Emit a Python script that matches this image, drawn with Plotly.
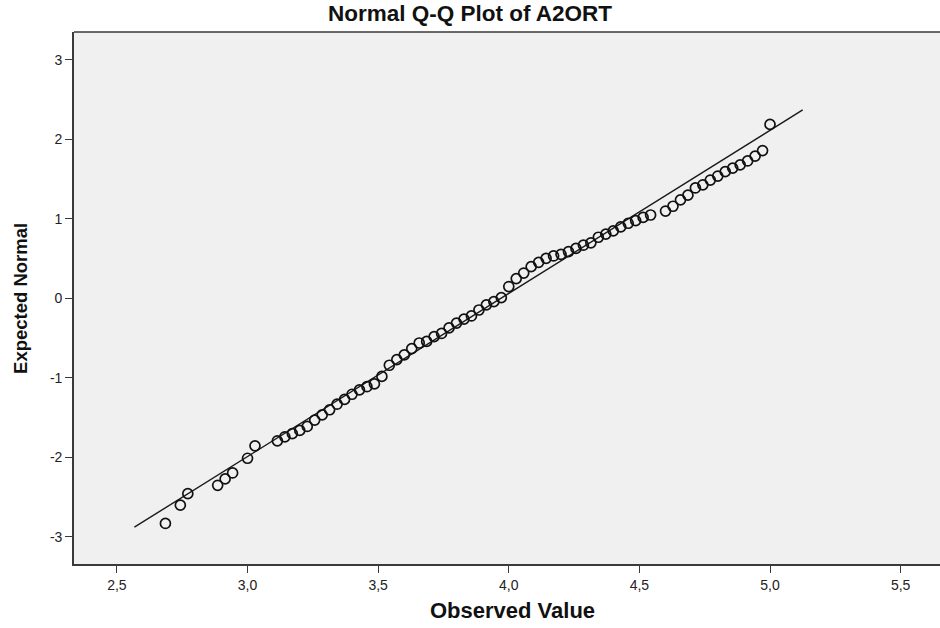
import plotly.graph_objects as go

obs_k = [94, 96, 97, 101, 102, 103, 105, 106, 109, 110, 111, 112, 113, 114, 115,
         116, 117, 118, 119, 120, 121, 122, 123, 124, 125, 126, 127, 128, 129, 130,
         131, 132, 133, 134, 135, 136, 137, 138, 139, 140, 141, 142, 143, 144, 145,
         146, 147, 148, 149, 150, 151, 152, 153, 154, 155, 156, 157, 158, 159, 161,
         162, 163, 164, 165, 166, 167, 168, 169, 170, 171, 172, 173, 174, 175]
observed = [k / 35 for k in obs_k]
expected = [-2.83, -2.60, -2.455, -2.35, -2.27, -2.195, -2.01, -1.854, -1.79, -1.74,
            -1.70, -1.66, -1.61, -1.53, -1.465, -1.40, -1.33, -1.27, -1.205, -1.15,
            -1.11, -1.075, -0.98, -0.84, -0.77, -0.71, -0.63, -0.56, -0.54, -0.48,
            -0.44, -0.37, -0.31, -0.26, -0.22, -0.145, -0.08, -0.04, 0.01, 0.15,
            0.25, 0.32, 0.40, 0.455, 0.505, 0.535, 0.556, 0.59, 0.63, 0.67,
            0.70, 0.77, 0.81, 0.85, 0.90, 0.946, 0.98, 1.02, 1.05, 1.10,
            1.16, 1.24, 1.30, 1.39, 1.43, 1.49, 1.54, 1.595, 1.64, 1.68,
            1.73, 1.79, 1.86, 2.19]

# Reference line parameters
line_mean = 3.969
line_sd = 0.4874
line_x = [2.567, 5.125]
line_y = [(v - line_mean) / line_sd for v in line_x]

x_ticks = [2.5, 3.0, 3.5, 4.0, 4.5, 5.0, 5.5]
x_tick_labels = ["2,5", "3,0", "3,5", "4,0", "4,5", "5,0", "5,5"]
y_ticks = [-3, -2, -1, 0, 1, 2, 3]
y_tick_labels = ["-3", "-2", "-1", "0", "1", "2", "3"]

FONT = "Liberation Sans, Arial, sans-serif"

fig = go.Figure()
fig.add_trace(go.Scatter(x=line_x, y=line_y, mode="lines",
                         line=dict(color="#1a1a1a", width=1.4),
                         hoverinfo="skip", showlegend=False))
fig.add_trace(go.Scatter(x=observed, y=expected, mode="markers",
                         marker=dict(symbol="circle-open", size=10,
                                     color="#111111", line=dict(width=1.7)),
                         showlegend=False))

axis_font = dict(family=FONT, size=14, color="#222222")

fig.update_layout(
    width=940, height=628,
    margin=dict(l=74, r=0, t=32, b=64),
    paper_bgcolor="white",
    plot_bgcolor="#f0f0f0",
    title=dict(text="<b>Normal Q-Q Plot of A2ORT</b>", x=0.5, xref="container",
               y=1 - 13 / 628, yref="container", yanchor="middle", xanchor="center",
               font=dict(family=FONT, size=22.5, color="#111111")),
    xaxis=dict(range=[2.3358, 5.6506], tickvals=x_ticks, ticktext=x_tick_labels,
               showgrid=False, zeroline=False, showline=True, linecolor="#3a3a3a",
               linewidth=1.6, ticks="outside", ticklen=7, tickcolor="#3a3a3a",
               tickwidth=1.4, tickfont=axis_font),
    yaxis=dict(range=[-3.340, 3.352], tickvals=y_ticks, ticktext=y_tick_labels,
               showgrid=False, zeroline=False, showline=True, linecolor="#3a3a3a",
               linewidth=1.6, ticks="outside", ticklen=7, tickcolor="#3a3a3a",
               tickwidth=1.4, tickfont=axis_font),
    shapes=[dict(type="line", xref="paper", yref="paper", x0=0, x1=1, y0=1, y1=1,
                 line=dict(color="#3a3a3a", width=1.6))],
    annotations=[
        dict(text="<b>Observed Value</b>", xref="paper", yref="paper", x=0.506,
             y=-0.0865, yanchor="middle", xanchor="center", showarrow=False,
             font=dict(family=FONT, size=22, color="#111111")),
        dict(text="<b>Expected Normal</b>", xref="paper", yref="paper", x=-0.0624,
             y=0.5, textangle=-90, xanchor="center", yanchor="middle", showarrow=False,
             font=dict(family=FONT, size=18.5, color="#111111")),
    ],
)

fig.write_html("out.html", config={"displayModeBar": False},
               post_script="document.body.style.margin='0';")
